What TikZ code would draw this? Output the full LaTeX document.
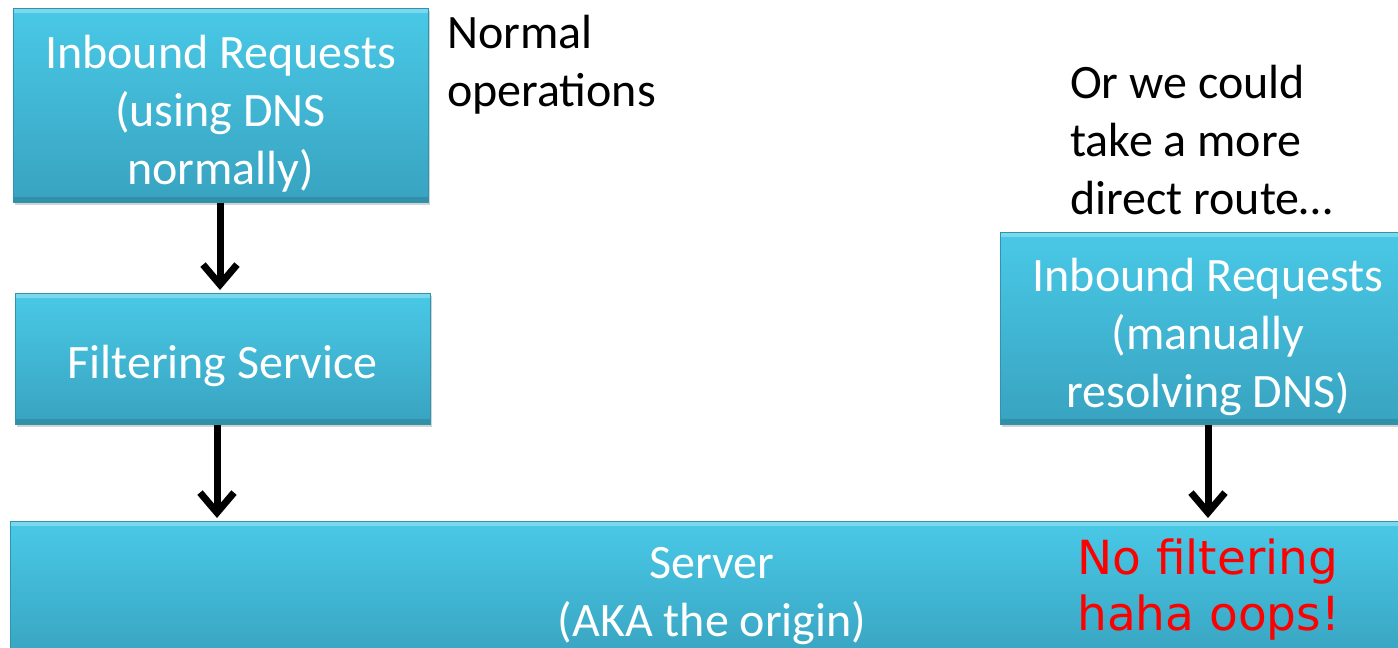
\documentclass[tikz,border=0pt]{standalone}
\usepackage{fontspec}
\setmainfont{Carlito}
\newfontfamily\redfont{DejaVu Sans}
\usetikzlibrary{arrows.meta,shadows}
\definecolor{boxtop}{HTML}{49C9E7}
\definecolor{boxbot}{HTML}{38A3C0}
\definecolor{boxedge}{HTML}{2F94AE}
\definecolor{redtxt}{HTML}{FF0000}
\newcommand\mytopgap{\rule{0pt}{50pt}}
\tikzset{
  bluebox/.style={rectangle, inner sep=0pt, top color=boxtop, bottom color=boxbot,
    draw=boxedge, line width=1pt, text=white, align=center,
    font=\fontsize{48}{58}\selectfont,
    drop shadow={shadow xshift=2pt, shadow yshift=-3pt, opacity=0.35},
    path picture={
      \fill[white,opacity=0.28] (path picture bounding box.north west) rectangle ([yshift=-5pt]path picture bounding box.north east);
      \fill[black,opacity=0.12] (path picture bounding box.south west) rectangle ([yshift=5pt]path picture bounding box.south east);
    }},
  note/.style={align=left, anchor=west, inner sep=0pt, font=\fontsize{48}{58}\selectfont},
  flow/.style={line width=7pt, -{Straight Barb[length=20pt,width=34pt,line width=7pt]}},
}
\begin{document}
\begin{tikzpicture}[x=1pt,y=-1pt]
\useasboundingbox (0,0) rectangle (1398,648);
\node[bluebox, minimum width=415pt, minimum height=194pt] (inA) at (220.5,105) {\mytopgap Inbound Requests\\(using DNS\\normally)};
\node[bluebox, minimum width=415pt, minimum height=131pt] (filt) at (222.5,358.5) {\rule{0pt}{48pt}Filtering Service};
\node[bluebox, minimum width=416pt, minimum height=192pt] (inB) at (1208,328) {\rule{0pt}{52pt}Inbound Requests\\(manually\\resolving DNS)};
\node[bluebox, minimum width=1404pt, minimum height=140pt] (srv) at (712,591) {\rule{0pt}{42pt}Server\\(AKA the origin)};
\node[note] (t1) at (447,65) {Normal\\operations};
\node[note] (t2) at (1070,140) {Or we could\\take a more\\direct route…};
\node[note, text=redtxt, font=\redfont\fontsize{47}{56}\selectfont] (t3) at (1077,590) {No filtering\\haha oops!};
\coordinate (a1s) at (220,203);
\coordinate (a1e) at (220,290);
\coordinate (a2s) at (217,425);
\coordinate (a2e) at (217,518);
\coordinate (a3s) at (1208,425);
\coordinate (a3e) at (1208,518);
\draw[flow] (inA.south -| a1s) -- (a1e);
\draw[flow] (filt.south -| a2s) -- (a2e);
\draw[flow] (inB.south -| a3s) -- (a3e);
\end{tikzpicture}
\end{document}
